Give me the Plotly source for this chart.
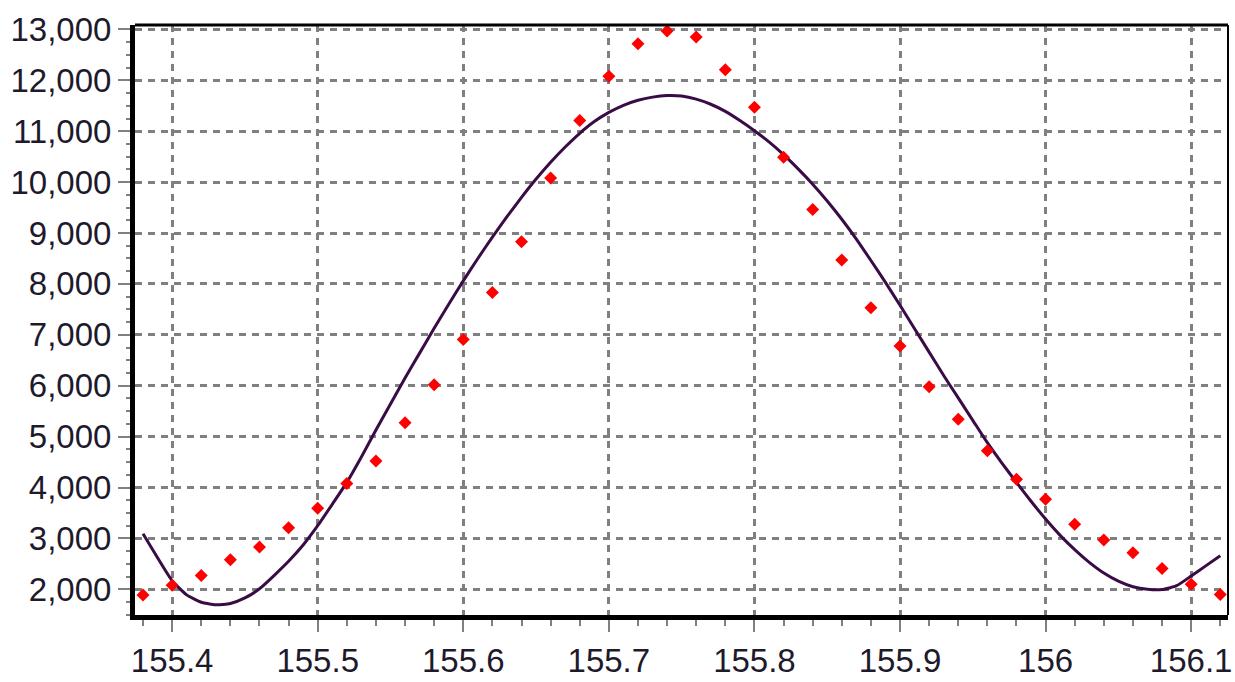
import plotly.graph_objects as go

# Measured points (red markers)
point_x = [155.38, 155.40, 155.42, 155.44, 155.46, 155.48, 155.50, 155.52, 155.54, 155.56,
           155.58, 155.60, 155.62, 155.64, 155.66, 155.68, 155.70, 155.72, 155.74, 155.76,
           155.78, 155.80, 155.82, 155.84, 155.86, 155.88, 155.90, 155.92, 155.94, 155.96,
           155.98, 156.00, 156.02, 156.04, 156.06, 156.08, 156.10, 156.12]
point_y = [1890, 2080, 2270, 2580, 2830, 3210, 3590, 4080, 4520, 5270,
           6020, 6910, 7830, 8830, 10080, 11210, 12080, 12720, 12970, 12850,
           12210, 11470, 10490, 9460, 8470, 7530, 6780, 5980, 5340, 4720,
           4160, 3770, 3280, 2970, 2720, 2410, 2100, 1900]

# Fitted curve (dark line)
curve_x = [155.38, 155.39, 155.40, 155.41, 155.42, 155.43, 155.44, 155.45, 155.46, 155.47,
           155.48, 155.49, 155.50, 155.51, 155.52, 155.53, 155.54, 155.55, 155.56, 155.57,
           155.58, 155.59, 155.60, 155.61, 155.62, 155.63, 155.64, 155.65, 155.66, 155.67,
           155.68, 155.69, 155.70, 155.71, 155.72, 155.73, 155.74, 155.75, 155.76, 155.77,
           155.78, 155.79, 155.80, 155.81, 155.82, 155.83, 155.84, 155.85, 155.86, 155.87,
           155.88, 155.89, 155.90, 155.91, 155.92, 155.93, 155.94, 155.95, 155.96, 155.97,
           155.98, 155.99, 156.00, 156.01, 156.02, 156.03, 156.04, 156.05, 156.06, 156.07,
           156.08, 156.09, 156.10, 156.11, 156.12]
curve_y = [3090, 2620, 2170, 1890, 1745, 1695, 1720, 1830, 2010, 2270,
           2550, 2870, 3250, 3670, 4100, 4600, 5130, 5640, 6150, 6640,
           7130, 7600, 8060, 8500, 8920, 9320, 9700, 10060, 10390, 10690,
           10960, 11190, 11370, 11510, 11610, 11670, 11700, 11690, 11630, 11530,
           11390, 11210, 11010, 10790, 10540, 10260, 9960, 9630, 9270, 8880,
           8460, 8030, 7580, 7120, 6660, 6200, 5760, 5320, 4880, 4480,
           4100, 3730, 3380, 3060, 2780, 2530, 2320, 2160, 2050, 2000,
           1995, 2070, 2260, 2460, 2660]

x_range = [155.3745, 156.1253]
y_range = [1495, 13087]

font_color = "#1e1a2c"
grid_color = "#808080"

fig = go.Figure()
fig.add_trace(go.Scatter(
    x=curve_x, y=curve_y, mode="lines",
    line=dict(color="#3a0c45", width=3, shape="spline", smoothing=0.5),
    showlegend=False, hoverinfo="skip"))
fig.add_trace(go.Scatter(
    x=point_x, y=point_y, mode="markers",
    marker=dict(symbol="diamond", size=10, color="#ff0000", line=dict(width=0)),
    showlegend=False))

fig.update_layout(
    width=1235, height=682,
    margin=dict(l=135, r=3, t=25, b=60),
    paper_bgcolor="white", plot_bgcolor="white",
    font=dict(family="Liberation Sans, Arial, sans-serif", size=33, color=font_color),
    xaxis=dict(
        range=x_range, tickmode="linear", tick0=155.4, dtick=0.1,
        tickformat="~r", ticklabeloverflow="allow",
        showgrid=True, gridcolor=grid_color, griddash="7px,6px", gridwidth=2.5,
        showline=True, linecolor="black", linewidth=5,
        ticks="outside", ticklen=12, tickwidth=2, tickcolor=grid_color,
        minor=dict(dtick=0.02, tick0=155.38, ticks="outside", ticklen=6,
                   tickwidth=2, tickcolor=grid_color, showgrid=False),
        zeroline=False,
    ),
    yaxis=dict(
        range=y_range, tickmode="linear", tick0=2000, dtick=1000,
        tickformat=",d",
        showgrid=True, gridcolor=grid_color, griddash="7px,6px", gridwidth=2.5,
        showline=True, linecolor="black", linewidth=5,
        ticks="outside", ticklen=12, tickwidth=2, tickcolor=grid_color,
        minor=dict(dtick=250, ticks="outside", ticklen=4, tickwidth=2,
                   tickcolor=grid_color, showgrid=False),
        zeroline=False,
    ),
    shapes=[
        dict(type="line", xref="paper", yref="paper", x0=0, x1=1, y0=1, y1=1,
             line=dict(color="black", width=3)),
        dict(type="line", xref="paper", yref="paper", x0=1, x1=1, y0=0, y1=1,
             line=dict(color="black", width=2)),
    ],
)

fig.write_html("out.html")
